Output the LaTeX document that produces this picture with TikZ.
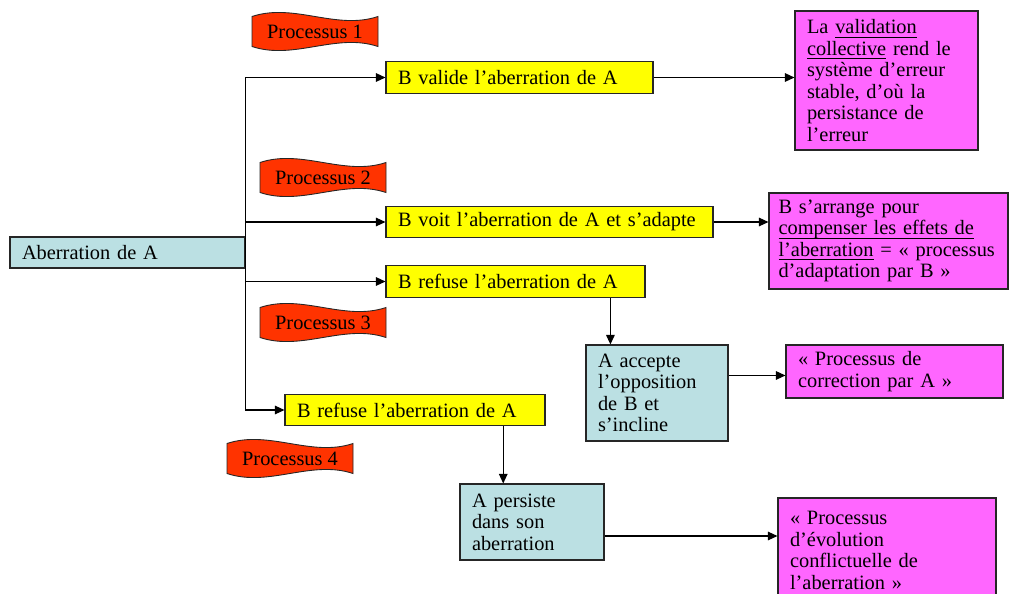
\documentclass[tikz,border=0pt]{standalone}
\usepackage{fontspec}
\setmainfont{Liberation Serif}
\usetikzlibrary{arrows.meta,calc}
\definecolor{aberblue}{HTML}{BBE0E3}
\definecolor{refyellow}{HTML}{FFFF00}
\definecolor{resmagenta}{HTML}{FF66FF}
\definecolor{bannerred}{HTML}{FF3300}
\newcommand{\uln}[1]{\leavevmode\setbox0\hbox{#1}\rlap{\rule[-2.2pt]{\wd0}{0.5pt}}\box0\relax}

\begin{document}
\begin{tikzpicture}[
  font=\fontsize{11.6}{12.25}\selectfont,
  box/.style={draw=black!85, line width=0.6pt, align=left, inner xsep=0.24cm, inner ysep=0pt},
  cause/.style={box, fill=aberblue},
  reply/.style={box, fill=refyellow, minimum height=0.63cm},
  result/.style={box, fill=resmagenta},
  wave/.style={fill=bannerred, draw=black!85, line width=0.5pt},
  bantext/.style={inner sep=0pt},
  arr/.style={-{Triangle[length=1.9mm, width=1.7mm]}, line width=0.7pt},
]
  \useasboundingbox (0,0) rectangle (20.2,-11.86);

  % starting point
  \node[cause, text width=4.22cm, minimum height=0.62cm] (abr) at (2.55,-5.05)
    {Aberration de A};

  % reactions of B
  \node[reply, text width=4.86cm] (valide)  at (10.39,-1.55) {B valide l’aberration de A};
  \node[reply, text width=6.06cm] (voit)    at (10.99,-4.44) {B voit l’aberration de A et s’adapte};
  \node[reply, text width=4.70cm] (refuse1) at (10.31,-5.63) {B refuse l’aberration de A};
  \node[reply, text width=4.72cm] (refuse2) at (8.30,-8.20)  {B refuse l’aberration de A};

  % answers of A
  \node[cause, text width=2.36cm, minimum height=1.92cm] (accept) at (13.14,-7.86)
    {A accepte\\l’opposition\\de B et\\s’incline};
  \node[cause, text width=2.40cm, minimum height=1.52cm] (persist) at (10.64,-10.44)
    {A persiste\\dans son\\aberration};

  % outcomes
  \node[result, text width=3.18cm, minimum height=2.78cm] (m1) at (17.73,-1.61)
    {La \uln{validation}\\\uln{collective} rend le\\système d’erreur\\stable, d’où la\\persistance de\\l’erreur};
  \node[result, text width=4.40cm, inner xsep=0.19cm, minimum height=1.92cm] (m2) at (17.77,-4.82)
    {B s’arrange pour\\\uln{compenser les effets de}\\\uln{l’aberration} = «~processus\\d’adaptation par B~»};
  \node[result, text width=3.86cm, minimum height=1.06cm] (m3) at (17.89,-7.43)
    {«~Processus de\\correction par A~»};
  \node[result, text width=3.88cm, minimum height=2.10cm] (m4) at (17.74,-11.01)
    {«~Processus\\d’évolution\\conflictuelle de\\l’aberration~»};

  \draw[arr] (abr.east) |- (valide.west);
  \draw[arr] (abr.east) |- (voit.west);
  \draw[arr] (abr.east) |- (refuse1.west);
  \draw[arr] (abr.east) |- (refuse2.west);

  \draw[arr] (valide.east) -- (valide.east -| m1.west);
  \draw[arr] (voit.east) -- (voit.east -| m2.west);

  \coordinate (r1drop) at ($(refuse1.south west)!0.865!(refuse1.south east)$);
  \draw[arr] (r1drop) -- (r1drop |- accept.north);
  \coordinate (r2drop) at ($(refuse2.south west)!0.838!(refuse2.south east)$);
  \draw[arr] (r2drop) -- (r2drop |- persist.north);

  \coordinate (accout) at ($(accept.north east)+(0,-0.62)$);
  \draw[arr] (accout) -- (accout -| m3.west);
  \coordinate (perout) at ($(persist.east)+(0,-0.28)$);
  \draw[arr] (perout) -- (perout -| m4.west);

  % banners
  \foreach \n/\x/\y in {1/6.30/-0.63, 2/6.46/-3.55, 3/6.46/-6.45, 4/5.80/-9.17} {
    \filldraw[wave, shift={(\x,\y)}] (-1.26,-0.30) -- (-1.26,0.30)
      .. controls (-0.42,0.58) and (0.42,0.02) .. (1.26,0.30) -- (1.26,-0.30)
      .. controls (0.42,-0.02) and (-0.42,-0.58) .. (-1.26,-0.30) -- cycle;
    \node[bantext] (proc\n) at (\x,\y) {Processus \n};
  }
\end{tikzpicture}
\end{document}
